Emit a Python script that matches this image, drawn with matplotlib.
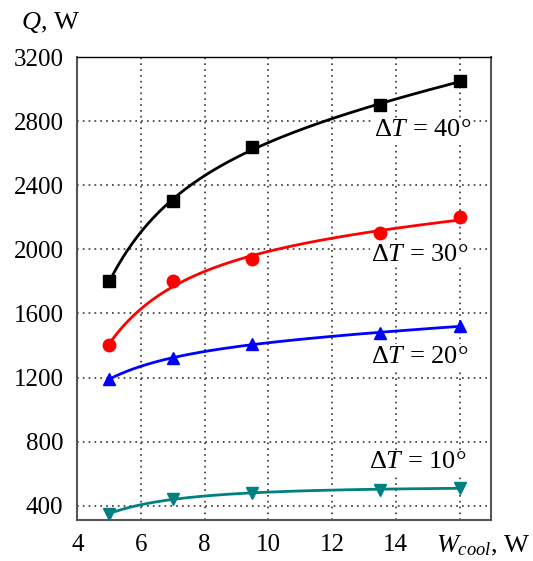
import matplotlib
matplotlib.use("Agg")
import matplotlib.pyplot as plt
import numpy as np

plt.rcParams['font.family'] = ['Liberation Serif', 'DejaVu Serif']
plt.rcParams['mathtext.fontset'] = 'custom'
plt.rcParams['mathtext.rm'] = 'Liberation Serif'
plt.rcParams['mathtext.it'] = 'Liberation Serif:italic'

# cooling power, W
w_cool = [5, 7, 9.5, 13.5, 16]
# heat output Q for each temperature difference
q_40 = [1800, 2300, 2640, 2900, 3050]
q_30 = [1400, 1800, 1940, 2100, 2200]
q_20 = [1190, 1320, 1410, 1480, 1520]
q_10 = [350, 440, 480, 500, 510]
dts = [40, 30, 20, 10]

series = [
    (q_40, 'black', 's', 8),
    (q_30, 'red', 'o', 9),
    (q_20, 'blue', '^', 9),
    (q_10, '#008080', 'v', 9),
]
label_pos = [(14.85, 2745), (14.75, 1965), (14.75, 1330), (14.7, 670)]


def basis(w):
    w = np.asarray(w, dtype=float)
    return np.column_stack([np.ones_like(w), w, 1.0 / w ** 2])


fig = plt.figure(figsize=(5.33, 5.61), dpi=100)
ax = fig.add_axes([0.145, 0.073, 0.777, 0.825])

x = np.array(w_cool)
xs = np.linspace(x.min(), x.max(), 200)
for (q, col, mk, ms), dt, (lx, ly) in zip(series, dts, label_pos):
    # trend line: least squares on a + b*W + c/W^2
    coef, *_ = np.linalg.lstsq(basis(x), np.array(q, dtype=float), rcond=None)
    ax.plot(xs, basis(xs) @ coef, color=col, lw=2, zorder=3)
    ax.plot(x, q, linestyle='none', marker=mk, color=col, ms=ms, zorder=4)
    ax.text(lx, ly, r'$\Delta T$ = %d°' % dt, fontsize=19, ha='center', va='center',
            bbox=dict(facecolor='white', edgecolor='none', pad=1), zorder=5)

ax.set_xlim(4, 17)
ax.set_ylim(310, 3200)
ax.set_xticks([4, 6, 8, 10, 12, 14, 16])
ax.set_xticklabels(['4', '6', '8', '10', '12', '14', ''])
ax.set_yticks(range(400, 3201, 400))
ax.tick_params(length=0, labelsize=18, pad=10)
ax.grid(True, linestyle=(0, (1, 2.5)), color='#333333', lw=1.2)
for s in ax.spines.values():
    s.set_color('#555555')
    s.set_linewidth(1.5)
ax.spines['top'].set_linewidth(1)
ax.spines['top'].set_color('black')

fig.text(0.095, 0.96, r'$Q$, W', fontsize=19, ha='center', va='center')
fig.text(0.996, 0.027, r'$W_{cool}$, W', fontsize=19, ha='right', va='center')

fig.savefig('out.png', dpi=100)
